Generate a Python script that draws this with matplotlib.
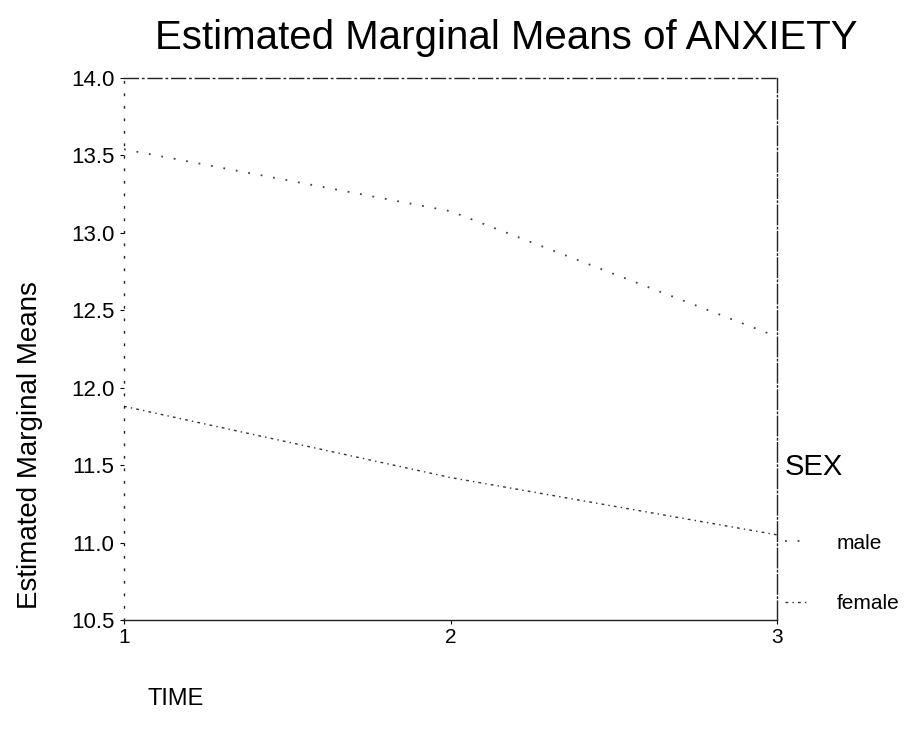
import matplotlib.pyplot as plt
import numpy as np

plt.rcParams['font.family'] = ['Liberation Sans', 'DejaVu Sans']

# estimated marginal means
time = [1, 2, 3]
male = [13.54, 13.14, 12.33]
female = [11.88, 11.42, 11.05]

y_ticks = [10.5, 11.0, 11.5, 12.0, 12.5, 13.0, 13.5, 14.0]
x_ticks = [1, 2, 3]

fig = plt.figure(figsize=(9.12, 7.32), dpi=100)
ax = fig.add_axes([0.136, 0.153, 0.716, 0.7404])

ax.plot(time, male, color='#444444', linestyle=(0, (1, 6)), linewidth=1.3, label='male')
ax.plot(time, female, color='#333333', linestyle=(0, (2, 3, 1, 3)), linewidth=1.0, label='female')

ax.set_xlim(1, 3)
ax.set_ylim(10.5, 14.0)
ax.set_yticks(y_ticks)
ax.set_yticklabels(['%.1f' % v for v in y_ticks], fontsize=16)
ax.set_xticks(x_ticks)
ax.set_xticklabels([str(v) for v in x_ticks], fontsize=15)
ax.tick_params(axis='y', direction='out', length=3, width=0.8, pad=4)
ax.tick_params(axis='x', direction='out', length=3, width=0.8, pad=3)

# broken-looking frame like the scanned print
ax.spines['top'].set_linestyle((0, (10, 3, 1, 3)))
ax.spines['left'].set_linestyle((0, (1, 8)))
ax.spines['right'].set_linestyle((0, (14, 2, 1, 2)))
for s in ax.spines.values():
    s.set_linewidth(1.0)
    s.set_color('#222222')

fig.text(0.555, 0.948, 'Estimated Marginal Means of ANXIETY', fontsize=29,
         ha='center', va='center')
fig.text(0.033, 0.392, 'Estimated Marginal Means', fontsize=20, rotation=90,
         ha='center', va='center')
fig.text(0.162, 0.045, 'TIME', fontsize=17, ha='left', va='center')

leg = ax.legend(loc='upper left', bbox_to_anchor=(0.84, 0.407),
                bbox_transform=fig.transFigure, frameon=False, title='SEX',
                fontsize=15, title_fontsize=21, handlelength=1.0,
                labelspacing=2.0, handletextpad=1.5)
leg._legend_box.align = 'left'
leg._legend_box.sep = 38

fig.savefig('out.png', dpi=100)
